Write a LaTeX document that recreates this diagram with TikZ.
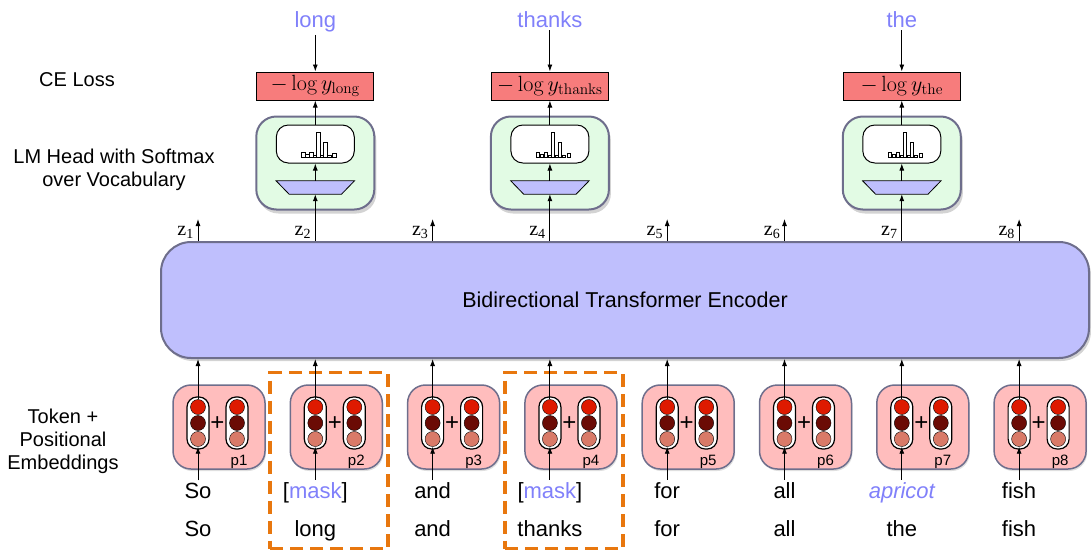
\RequirePackage{fix-cm}
\documentclass[tikz,border=0pt]{standalone}
\usepackage[no-math]{fontspec}
\setmainfont{Liberation Sans}
\newfontfamily\zfont{Liberation Serif}
\usetikzlibrary{arrows.meta,positioning,shadows}
\definecolor{encfill}{RGB}{191,191,253}
\definecolor{edgegray}{RGB}{110,110,140}
\definecolor{headfill}{RGB}{226,251,228}
\definecolor{embfill}{RGB}{255,189,189}
\definecolor{lossfill}{RGB}{247,124,124}
\definecolor{wordblue}{RGB}{128,128,250}
\definecolor{dotred}{RGB}{222,26,0}
\definecolor{dotdark}{RGB}{107,11,5}
\definecolor{dotlight}{RGB}{217,122,104}
\definecolor{maskorange}{RGB}{232,119,14}

\begin{document}
\begin{tikzpicture}[x=1pt,y=-1pt]
	\tikzstyle{sidetext} = [font=\fontsize{20}{23}\selectfont, align=center];
	\tikzstyle{word} = [font=\fontsize{22}{24}\selectfont, inner sep=2pt, anchor=base];
	\tikzstyle{encoder} = [draw=edgegray, line width=2pt, fill=encfill, rounded corners=30pt, minimum width=928pt, minimum height=116pt, drop shadow={shadow xshift=2pt, shadow yshift=-3pt, opacity=0.35}, font=\fontsize{21.5}{24}\selectfont];
	\tikzstyle{embbox} = [draw=edgegray, line width=1.5pt, fill=embfill, rounded corners=18pt, minimum width=92pt, minimum height=84pt, drop shadow={shadow xshift=1pt, shadow yshift=-2pt, opacity=0.25}];
	\tikzstyle{capsule} = [draw, line width=1.2pt, fill=white, rounded corners=10pt, minimum width=22pt, minimum height=52pt, inner sep=0pt];
	\tikzstyle{bead} = [circle, draw, line width=0.4pt, minimum size=15pt, inner sep=0pt];
	\tikzstyle{lmhead} = [draw=edgegray, line width=2pt, fill=headfill, rounded corners=20pt, minimum width=118pt, minimum height=93pt, drop shadow={shadow xshift=2pt, shadow yshift=-4pt, opacity=0.35}];
	\tikzstyle{histbox} = [draw, line width=1pt, fill=white, rounded corners=12pt, minimum width=78pt, minimum height=38pt];
	\tikzstyle{proj} = [minimum width=78pt, minimum height=13pt, inner sep=0pt];
	\tikzstyle{lossbox} = [draw, line width=1pt, fill=lossfill, minimum width=117pt, minimum height=28pt, inner sep=1pt, font=\fontsize{22}{24}\selectfont];
	\tikzstyle{maskbox} = [draw=maskorange, line width=3.5pt, dash pattern=on 13pt off 7pt, minimum width=118pt, minimum height=176pt];
	\tikzstyle{arr} = [-{Latex[length=7pt,width=5pt]}, line width=0.9pt];
	\tikzstyle{zlabel} = [font=\zfont\fontsize{20}{22}\selectfont, anchor=south east, inner sep=1pt];
	\useasboundingbox (0,0) rectangle (1091,551);
	\node (enc) [encoder] at (625,300) {Bidirectional Transformer Encoder};
	% row labels
	\node (celoss) [sidetext] at (77,80) {CE Loss};
	\node (lmlabel) [sidetext] at (114,170) {LM Head with Softmax\\over Vocabulary};
	\node (emblabel) [sidetext] at (63,441) {Token +\\Positional\\Embeddings};
	% masked positions
	\node (mask2) [maskbox] at (329,460.5) {};
	\node (mask4) [maskbox] at (564,460.5) {};
	% embeddings
	\foreach \i/\wmask/\worig in {1/So/So, 2/{[\textcolor{wordblue}{mask}]}/long, 3/and/and, 4/{[\textcolor{wordblue}{mask}]}/thanks, 5/for/for, 6/all/all, 7/{\textcolor{wordblue}{\itshape apricot}}/the, 8/fish/fish} {
		\pgfmathsetmacro{\cx}{219+117.3*(\i-1)}
		\pgfmathsetmacro{\tx}{\cx-21}
		\pgfmathsetmacro{\px}{\cx+18}
		\node (emb\i) [embbox] at (\cx,427) {};
		\node (tok\i) [capsule] at (\tx,423) {};
		\node (pos\i) [capsule] at (\px,423) {};
		\node (ta\i) [bead, fill=dotred] at (\tx,407) {};
		\node (tb\i) [bead, fill=dotdark] at (\tx,423) {};
		\node (tc\i) [bead, fill=dotlight] at (\tx,439) {};
		\node (pa\i) [bead, fill=dotred] at (\px,407) {};
		\node (pb\i) [bead, fill=dotdark] at (\px,423) {};
		\node (pc\i) [bead, fill=dotlight] at (\px,439) {};
		\node (plus\i) [font=\fontsize{24}{24}\selectfont] at (\cx-1.5,424) {+};
		\node (pn\i) [font=\fontsize{15}{16}\selectfont] at (\px+2,462) {p\i};
		\node (in\i) [word] at (\tx,498) {\wmask};
		\node (orig\i) [word] at (\tx,536) {\worig};
		\draw [arr] (in\i) -- (tc\i);
		\draw [arr] (ta\i) -- (ta\i |- enc.south);
		\coordinate (zb\i) at (enc.north -| tok\i);
		\node (z\i) [zlabel] at (\tx-3,240) {z\textsubscript{\i}};
	}
	\foreach \i in {1,3,5,6,8} {
		\coordinate (zt\i) at ([yshift=22pt]zb\i);
		\draw [arr] (zb\i) -- (zt\i);
	}
	% LM heads
	\foreach \i/\tgtword in {2/long,4/thanks,7/the} {
		\pgfmathsetmacro{\hx}{198+117.3*(\i-1)}
		\node (head\i) [lmhead] at (\hx,163) {};
		\node (hist\i) [histbox] at (\hx,144) {};
		\node (trap\i) [proj] at (\hx,187.5) {};
		\draw [line width=0.8pt, fill=encfill] (trap\i.north west) -- (trap\i.north east) -- ([xshift=-13pt]trap\i.south east) -- ([xshift=13pt]trap\i.south west) -- cycle;
		\foreach \bx/\bh in {-14/5,-10/3,-6/5,-2/2,1/25,5/2,8/15,12/2,17/4}
			\draw [line width=0.6pt, fill=white] (\hx+\bx,157) rectangle ++(3.5,-\bh);
		\node (loss\i) [lossbox] at (\hx,86) {$-\log y_{\mathrm{\tgtword}}$};
		\node (tgt\i) [word, text=wordblue] at (\hx,28) {\tgtword};
		\draw [arr] (zb\i) -- (trap\i.south);
		\draw [arr] (trap\i.north) -- (hist\i.south);
		\draw [arr] (hist\i.north) -- (loss\i.south);
		\draw [arr] (tgt\i) -- (loss\i.north);
	}
\end{tikzpicture}
\end{document}
